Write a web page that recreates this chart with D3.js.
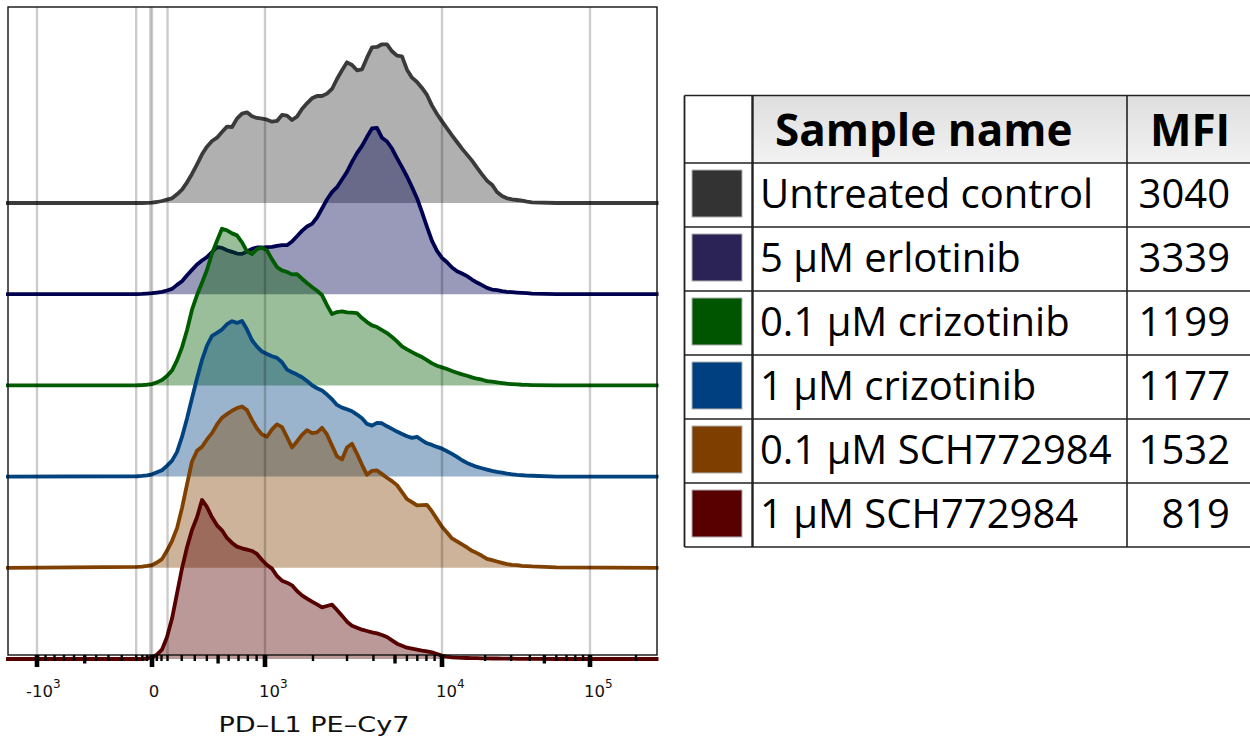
<!DOCTYPE html>
<html><head><meta charset="utf-8">
<script src="https://cdn.jsdelivr.net/npm/d3@7"></script>
<style>body{margin:0;background:#fff;} svg{display:block;}</style>
</head><body>
<svg id="chart" width="1250" height="740"></svg>
<script>
// ---------------- data ----------------
const sampleNames = ["Untreated control", "5 \u03BCM erlotinib", "0.1 \u03BCM crizotinib", "1 \u03BCM crizotinib", "0.1 \u03BCM SCH772984", "1 \u03BCM SCH772984"];
const mfiValues = [3040, 3339, 1199, 1177, 1532, 819];
const strokeColors = ["#3a3a3a", "#000050", "#005c00", "#00437f", "#7f4000", "#570000"];
const swatchColors = ["#333333", "#2b2356", "#005500", "#004080", "#7d3e00", "#580000"];

// fluorescence value of each histogram bin (PD-L1 PE-Cy7)
const binValues = [-1400, -94, -62, -30,
  0, 31, 63, 96, 131, 166, 202, 240, 278, 318,
  359, 401, 445, 490, 536, 584, 634, 684, 737, 791,
  847, 904, 964, 1034, 1122, 1213, 1309, 1409, 1513, 1621,
  1734, 1852, 1975, 2104, 2238, 2377, 2523, 2675, 2834, 2999,
  3172, 3352, 3540, 3736, 3940, 4153, 4376, 4608, 4850, 5157,
  5567, 6004, 6471, 6969, 7499, 8065, 8669, 9313, 10000, 10855,
  11778, 12772, 13843, 14998, 16242, 17583, 19029, 20586, 22265, 24075,
  26025, 28127, 30392, 32834, 35466, 38303, 41359,
  60000, 300000];

// % of mode per bin, one array per sample
const untreatedControl = [0, 0, 0, 0.1,
  0.2, 0.6, 1.2, 2, 2.8, 5.2, 8, 12.4, 17.4, 23.2,
  29.2, 33.8, 37.2, 39.2, 42.6, 45.8, 45.6, 50.6, 53.6, 54.4,
  52, 51, 50.6, 50, 48.8, 49.2, 52.8, 52.4, 49.8, 51.8,
  56.4, 59.8, 62.8, 64.2, 64.2, 65.6, 68.4, 74.4, 79.6, 84.4,
  82.8, 79.6, 80.2, 87.2, 93.4, 93.6, 95.2, 95.2, 91, 88.4,
  88, 80, 75.2, 72.6, 69, 64.8, 58.4, 53.4, 49, 44.8,
  40.6, 36.6, 32.6, 29, 25.4, 21.2, 17.2, 13.4, 11, 6.6,
  4.2, 2.8, 2.2, 1.8, 1.4, 0.8, 0.4,
  0, 0];
const erlotinib5 = [0, 0.1, 0.2, 0.4,
  0.6, 1, 1.4, 2.2, 3.2, 5.6, 7.8, 11.4, 14.6, 17.8,
  20.2, 22.2, 25.2, 28.2, 27.8, 26.4, 25.4, 24.4, 24.2, 25.6,
  27.2, 28, 28, 28.2, 28.4, 29, 29.4, 29.4, 31.6, 34.8,
  38, 40.6, 42.2, 46, 51.4, 56.8, 61.2, 64.2, 68.8, 73.4,
  79.4, 84.6, 89, 94.4, 99.4, 99.8, 93.8, 91.6, 87.4, 81.6,
  76.2, 70.6, 64.2, 57.6, 49.2, 40.4, 32, 26, 21.8, 19.2,
  16, 13.8, 12.4, 10.8, 8.8, 7, 5.4, 3.8, 2.8, 2.4,
  1.8, 1.4, 1.2, 1, 0.8, 0.6, 0.4,
  0, 0];
const crizotinib01 = [0, 0.1, 0.2, 0.4,
  0.8, 1.8, 3.2, 5.6, 9, 15, 22.8, 33.2, 45.4, 54.2,
  61.6, 69.2, 79.2, 86.8, 94, 93, 91.2, 90, 85.8, 80.4,
  78.8, 81.8, 82.6, 81, 75.6, 71, 69, 68, 66.6, 66.8,
  64, 61.4, 59, 56.8, 54.2, 48.2, 42.8, 44, 44.4, 43.8,
  43.6, 43.4, 40.4, 38, 36, 35, 33.2, 31.4, 29, 26.4,
  23.4, 21.6, 20, 18.4, 17, 15.2, 13.2, 11.8, 10.8, 9.8,
  8.6, 7.6, 6.6, 5.8, 4.8, 4, 3.4, 2.6, 2.2, 1.8,
  1.4, 1, 0.8, 0.6, 0.4, 0.3, 0.2,
  0, 0];
const crizotinib1 = [0, 0.2, 0.4, 0.8,
  1.4, 2.6, 3.8, 6.4, 9.6, 14.8, 23.8, 35, 47, 59,
  70, 78.6, 84.4, 86.2, 88.2, 91.4, 93.2, 92.2, 93.4, 88.2,
  81.8, 78, 75, 73.6, 72.2, 71.2, 68.6, 64.2, 62.6, 61.2,
  59.6, 57.4, 54.8, 53, 51.6, 49.2, 46.4, 43, 41.4, 40.4,
  39.2, 37.2, 35, 31.6, 30.6, 32.2, 32, 30.2, 28.6, 27,
  25.6, 24.2, 23.2, 23.8, 21.8, 20, 19, 17.8, 16.8, 15.2,
  13.6, 11.8, 9.8, 8.2, 7, 5.8, 5, 4.2, 3.4, 2.8,
  2.4, 1.8, 1.4, 1, 0.8, 0.6, 0.5,
  0, 0];
const sch01 = [0, 0.6, 0.7, 1.1,
  1.6, 3.2, 5.2, 10.2, 16.2, 23.8, 35.8, 50.2, 63.8, 70.2,
  72.6, 77, 80.8, 86, 90, 92.2, 94.2, 95.8, 96.8, 94.6,
  88.6, 83.6, 80, 78.6, 83, 86, 84.4, 78.4, 72.2, 75.8,
  79.8, 82.6, 80.8, 81.2, 84, 80, 73.4, 66.8, 65, 72.2,
  74.4, 68.4, 61.8, 55.8, 58.2, 58.4, 56.2, 54, 52, 49.6,
  45.4, 41.2, 39.4, 37.4, 37.6, 37.8, 33.8, 29.2, 24.6, 21.2,
  17.6, 15.8, 14, 12.2, 10.2, 8.8, 7.2, 5.4, 4.6, 3.8,
  3, 2.2, 1.8, 1.6, 1.2, 1, 0.8,
  0.2, 0];
const sch1 = [0, 0, 0, 0.3,
  1.2, 2.6, 5.6, 13, 24.4, 39.4, 54.4, 67.2, 77.4, 85,
  95.4, 91.2, 85, 80.2, 77.2, 72.6, 69.6, 67.4, 66.4, 65.6,
  64.8, 63, 59.4, 56.4, 54.2, 49.8, 47, 45.8, 44.2, 40.8,
  38.2, 36.2, 34.4, 32.8, 31, 31.8, 32.6, 29.4, 26, 22.4,
  20, 18.8, 17.6, 16.8, 16, 15.4, 14.4, 13.2, 11.2, 9.2,
  8, 6.8, 6.2, 5.6, 5, 4.6, 4, 3, 2, 1.4,
  1, 0.8, 0.7, 0.6, 0.5, 0.5, 0.4, 0.4, 0.3, 0.3,
  0.2, 0.2, 0.2, 0.1, 0.1, 0.1, 0.1,
  0, 0];
const seriesCounts = [untreatedControl, erlotinib5, crizotinib01, crizotinib1, sch01, sch1];

const majorTickValues = [-1000, 0, 1000, 10000, 100000];
const tickBase = ["-10", "0", "10", "10", "10"];
const tickExp = ["3", "", "3", "4", "5"];
const mediumTickValues = [-500, 500, 5000, 50000];
const minorTickValues = [-900, -800, -700, -600, -400, -300, -200, -100, -60, -30, 30, 60,
  100, 200, 300, 400, 600, 700, 800, 900, 2000, 3000, 4000, 6000, 7000, 8000, 9000,
  20000, 30000, 40000, 60000, 70000, 80000, 90000, 200000];
const gridValues = [-1000, -100, -10, 0, 100, 1000, 10000, 100000];
const axisTitle = "PD\u2013L1 PE\u2013Cy7";
const headerLabels = ["Sample name", "MFI"];

// ---------------- scales ----------------
const svg = d3.select("#chart");
const x = d3.scaleSymlog().constant(1000)
  .domain([-1000, 0, 1000, 5000, 10000, 100000])
  .range([37, 152, 265, 395, 442, 590]);
const lane = d3.scalePoint().domain(sampleNames).range([203, 659]);
const hgt = d3.scaleLinear().domain([0, 100]).range([0, 166.7]);

const plot = {left: 8, top: 7, right: 657, bottom: 655};

const defs = svg.append("defs");
defs.append("clipPath").attr("id", "plotClip")
  .append("rect").attr("x", 6).attr("y", 0).attr("width", 652.5).attr("height", 664);
const grad = defs.append("linearGradient").attr("id", "hdrGrad")
  .attr("x1", 0).attr("y1", 0).attr("x2", 0).attr("y2", 1);
grad.append("stop").attr("offset", "0%").attr("stop-color", "#dedede");
grad.append("stop").attr("offset", "100%").attr("stop-color", "#f2f2f2");

// ---------------- histograms ----------------
const gCurves = svg.append("g").attr("clip-path", "url(#plotClip)");
sampleNames.forEach((name, si) => {
  const base = lane(name);
  const vals = seriesCounts[si];
  const pts = binValues.map((b, i) => [b, vals[i]]);
  const area = d3.area().x(d => x(d[0])).y0(base).y1(d => base - hgt(d[1]));
  const line = d3.line().x(d => x(d[0])).y(d => base - hgt(d[1]));
  gCurves.append("path").attr("d", area(pts))
    .attr("fill", strokeColors[si]).attr("fill-opacity", 0.4);
  gCurves.append("path").attr("d", line(pts))
    .attr("fill", "none").attr("stroke", strokeColors[si])
    .attr("stroke-width", 3.8).attr("stroke-linejoin", "round").attr("stroke-linecap", "round");
});

// ---------------- gridlines ----------------
svg.append("g").selectAll("line").data(gridValues).join("line")
  .attr("x1", d => x(d)).attr("x2", d => x(d))
  .attr("y1", plot.top).attr("y2", plot.bottom)
  .attr("stroke", "#000").attr("stroke-opacity", 0.2).attr("stroke-width", 2.4);

// frame
svg.append("rect").attr("x", plot.left).attr("y", plot.top)
  .attr("width", plot.right - plot.left).attr("height", plot.bottom - plot.top)
  .attr("fill", "none").attr("stroke", "#111").attr("stroke-width", 1.4);

// ---------------- ticks ----------------
const gTicks = svg.append("g");
gTicks.selectAll(".mn").data(minorTickValues).join("rect").attr("class", "mn")
  .attr("x", d => x(d) - 1.2).attr("y", plot.bottom).attr("width", 2.4).attr("height", 6).attr("fill", "#000");
gTicks.selectAll(".md").data(mediumTickValues).join("rect").attr("class", "md")
  .attr("x", d => x(d) - 1.7).attr("y", plot.bottom).attr("width", 3.4).attr("height", 8.5).attr("fill", "#000");
gTicks.selectAll(".mj").data(majorTickValues).join("rect").attr("class", "mj")
  .attr("x", d => x(d) - 2.3).attr("y", plot.bottom).attr("width", 4.6).attr("height", 12).attr("fill", "#000");

// tick labels
const gLab = svg.append("g").attr("font-family", "'DejaVu Sans', sans-serif").attr("fill", "#111");
majorTickValues.forEach((v, i) => {
  const hasExp = tickExp[i] !== "";
  const t = gLab.append("text").attr("y", 697).attr("font-size", 16.5);
  if (hasExp) {
    t.attr("x", x(v) + (v < 0 ? -11 : -6)).attr("text-anchor", "start");
    t.append("tspan").text(tickBase[i]);
    t.append("tspan").attr("dy", -9).attr("font-size", 12).text(tickExp[i]);
  } else {
    t.attr("x", x(v) + 2).attr("text-anchor", "middle").text(tickBase[i]);
  }
});
gLab.append("text").attr("x", 314).attr("y", 732).attr("text-anchor", "middle")
  .attr("font-size", 21.5).attr("textLength", 191).attr("lengthAdjust", "spacingAndGlyphs")
  .text(axisTitle);

// ---------------- legend table ----------------
const tbl = {left: 684.5, c1: 752.5, c2: 1127, right: 1250, top: 95.5, head: 163};
const rowBottoms = sampleNames.map((n, i) => tbl.head + (547 - tbl.head) * (i + 1) / sampleNames.length);
const gT = svg.append("g");
gT.append("rect").attr("x", tbl.c1).attr("y", tbl.top).attr("width", tbl.right - tbl.c1)
  .attr("height", tbl.head - tbl.top).attr("fill", "url(#hdrGrad)");
// swatches
sampleNames.forEach((n, i) => {
  const top = i === 0 ? tbl.head : rowBottoms[i - 1];
  gT.append("rect").attr("x", 692).attr("y", top + 7).attr("width", 50).attr("height", 47)
    .attr("fill", swatchColors[i]).attr("stroke", "#b0b0b0").attr("stroke-width", 1);
});
// lines
const hLines = [tbl.top, tbl.head].concat(rowBottoms);
gT.selectAll(".hl").data(hLines).join("line").attr("class", "hl")
  .attr("x1", tbl.left).attr("x2", tbl.right).attr("y1", d => d).attr("y2", d => d)
  .attr("stroke", "#222").attr("stroke-width", 1.6);
gT.append("line").attr("x1", tbl.left).attr("x2", tbl.left).attr("y1", tbl.top).attr("y2", 547)
  .attr("stroke", "#222").attr("stroke-width", 1.8);
gT.append("line").attr("x1", tbl.c1).attr("x2", tbl.c1).attr("y1", tbl.top).attr("y2", 547)
  .attr("stroke", "#222").attr("stroke-width", 2.4);
gT.append("line").attr("x1", tbl.c2).attr("x2", tbl.c2).attr("y1", tbl.top).attr("y2", 547)
  .attr("stroke", "#222").attr("stroke-width", 1.6);
// header text
const gTx = gT.append("g").attr("font-family", "'Open Sans', sans-serif").attr("fill", "#000");
gTx.append("text").attr("x", 775).attr("y", 146).attr("font-size", 44).attr("font-weight", 700).text(headerLabels[0]);
gTx.append("text").attr("x", 1190).attr("y", 146).attr("font-size", 44).attr("font-weight", 700)
  .attr("text-anchor", "middle").text(headerLabels[1]);
sampleNames.forEach((n, i) => {
  gTx.append("text").attr("x", 760).attr("y", rowBottoms[i] - 19).attr("font-size", 40).text(n);
  gTx.append("text").attr("x", 1230).attr("y", rowBottoms[i] - 19).attr("font-size", 40)
    .attr("text-anchor", "end").text(mfiValues[i]);
});
</script>
</body></html>
